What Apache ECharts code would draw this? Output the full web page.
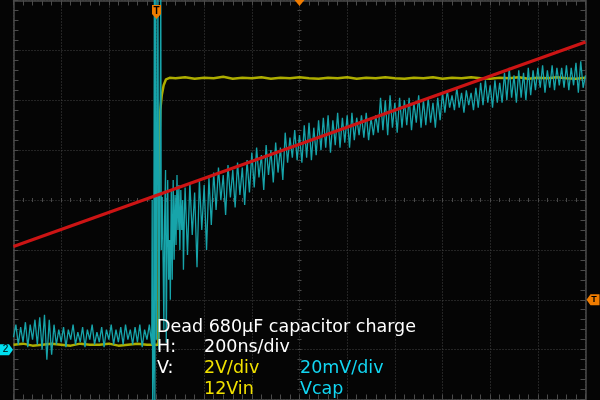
<!DOCTYPE html>
<html>
<head>
<meta charset="utf-8">
<script src="https://cdn.jsdelivr.net/npm/echarts@6/dist/echarts.min.js"></script>
<style>
html,body{margin:0;padding:0;background:#050505;}
#c{width:600px;height:400px;}
</style>
</head>
<body>
<div id="c"></div>
<script>
// ---- axis setup (time in ns, vertical in screen divisions) ----
const X_MIN = -600, X_MAX = 1800, X_STEP = 200;   // 200 ns/div, 12 div
const Y_MIN = -4, Y_MAX = 4, Y_STEP = 1;          // 8 div

// ---- CH1 (12Vin, yellow) ----
const ch1PreStart = -600, ch1PreDt = 40;
const ch1PreV = [-2.9,-2.88,-2.92,-2.9,-2.88,-2.9,-2.92,-2.88,-2.9,-2.9,-2.88,-2.92,-2.9,-2.88,-2.9];
const ch1RiseT = [8, 11, 16, 22, 30, 40, 55];
const ch1RiseV = [-2.9, 0.9, 1.8, 2.1, 2.3, 2.42, 2.45];
const ch1PlatStart = 80, ch1PlatDt = 40;
const ch1PlatV = [2.44,2.46,2.43,2.45,2.44,2.47,2.43,2.45,2.44,2.46,
                  2.43,2.45,2.44,2.46,2.44,2.43,2.45,2.44,2.46,2.43,
                  2.45,2.44,2.46,2.44,2.43,2.45,2.44,2.46,2.43,2.45,
                  2.44,2.46,2.44,2.43,2.45,2.44,2.46,2.43,2.45,2.44,
                  2.46,2.44,2.43,2.45];

// ---- CH2 (Vcap, cyan) ----
const ch2PreStart = -600, ch2Dt = 10;
const ch2PreV = [-2.75,-2.5,-2.9,-2.55,-2.85,-2.45,-2.95,-2.5,-2.8,-2.4,
                 -2.9,-2.35,-3.0,-2.3,-3.2,-2.4,-3.1,-2.5,-2.9,-2.6,
                 -2.85,-2.55,-2.95,-2.6,-2.8,-2.5,-2.9,-2.65,-2.85,-2.55,
                 -2.95,-2.6,-2.8,-2.5,-2.9,-2.65,-2.85,-2.55,-2.95,-2.6,
                 -2.8,-2.5,-2.9,-2.6,-2.85,-2.55,-2.9,-2.5,-2.8,-2.6,
                 -2.9,-2.55,-2.85,-2.5,-2.95,-2.6,-2.8,-2.5,-2.9];
const ch2BurstT = [-18,-16,-12,-9,-7,-3,0,6,10,18,20,24,28,31,34,38,41,44,47,51,55,58,62,66,70,74,78,82,86,90,94,98,102,106,110,113,117];
const ch2BurstV = [0.0,-4.3,-3.2,4.3,-4.3,4.3,-2.8,4.3,-3.0,4.3,-1.0,0.06,-1.34,-2.6,-0.4,0.6,-2.86,-1.0,0.4,-1.6,-0.8,-2.0,0.2,-1.6,0.4,-1.2,0.1,-0.9,0.5,-0.6,0.3,-1.0,0.2,-0.6,0.0,-1.4,-0.3];
const ch2PostStart = 120;
const ch2PostV = [
  0.25,-1.1,0.35,-0.7,0.15,-1.35,0.4,-0.6,0.3,-1.0,0.45,-0.5,
  0.55,-0.2,0.65,0.0,0.5,-0.3,0.7,0.05,0.6,-0.15,0.75,0.1,0.65,-0.1,0.8,0.15,
  0.95,0.25,1.05,0.45,0.9,0.2,1.1,0.5,1.0,0.35,1.15,0.55,1.05,0.4,
  1.35,0.75,1.25,0.85,1.4,0.8,1.3,
  0.75,1.5,0.85,1.55,0.8,1.45,0.9,1.6,
  1.0,1.65,1.05,1.7,0.95,1.6,1.1,1.75,1.05,1.65,1.15,1.7,1.05,
  1.75,1.2,1.65,1.3,1.7,1.25,1.75,1.2,1.65,1.3,1.7,
  1.35,2.05,1.4,2.0,1.3,2.1,1.45,1.95,1.35,2.05,
  1.45,2.0,1.5,2.05,1.4,1.95,1.55,2.1,1.45,2.0,1.5,2.05,1.55,1.95,1.45,2.05,1.6,
  2.15,1.75,2.2,1.85,2.1,1.8,2.25,1.85,2.15,1.75,2.2,1.9,2.15,1.8,2.25,1.85,
  2.35,1.9,2.4,1.95,2.3,1.85,2.4,1.95,2.35,
  1.95,2.55,2.0,2.65,2.05,2.5,1.95,2.6,2.05,2.55,2.0,2.65,2.1,2.6,
  2.2,2.65,2.25,2.7,2.15,2.6,2.25,2.7,2.2,2.65,2.3,2.65,
  2.25,2.7,2.2,2.65,2.3,2.75,2.15,2.78,2.25,2.5];

// ---- reference line (red) ----
const refT = [-600, 1800];
const refV = [-0.93, 3.17];

// ---- annotation text ----
const noteTitle = 'Dead 680µF capacitor charge';
const noteH = ['H:', '200ns/div'];
const noteV = ['V:', '2V/div', '20mV/div'];
const noteNames = ['12Vin', 'Vcap'];

// ---- build series data ----
const ch1Data = [];
ch1PreV.forEach((v, i) => ch1Data.push([ch1PreStart + i * ch1PreDt, v]));
ch1RiseT.forEach((t, i) => ch1Data.push([t, ch1RiseV[i]]));
ch1PlatV.forEach((v, i) => ch1Data.push([ch1PlatStart + i * ch1PlatDt, v]));

const ch2Data = [];
ch2PreV.forEach((v, i) => ch2Data.push([ch2PreStart + i * ch2Dt, v]));
ch2BurstT.forEach((t, i) => ch2Data.push([t, ch2BurstV[i]]));
ch2PostV.forEach((v, i) => ch2Data.push([ch2PostStart + i * ch2Dt, v]));

const refData = refT.map((t, i) => [t, refV[i]]);

// ---- styles ----
const BORDER = '#4a4a4a';
const GRIDC = '#444444';
const ORANGE = '#f07c00';
const YEL_TRACE = '#adad00';
const CYAN_TRACE = '#17a4aa';
const RED = '#cc1414';
const YEL_TEXT = '#f2e200';
const CYAN_TEXT = '#12d6f2';

function xAx(pos, offset, len, inside, line, split) {
  return {
    type: 'value', position: pos, offset: offset,
    min: X_MIN, max: X_MAX, interval: X_STEP,
    axisLine: { show: line, onZero: false, lineStyle: { color: BORDER, width: 1.5 } },
    axisTick: { show: true, inside: inside, length: len, lineStyle: { color: BORDER, width: 1 } },
    minorTick: { show: true, splitNumber: 5, length: len, lineStyle: { color: BORDER, width: 1 } },
    axisLabel: { show: false },
    splitLine: { show: split, lineStyle: { color: GRIDC, type: [1, 2], width: 1 } },
    minorSplitLine: { show: false }
  };
}
function yAx(pos, offset, len, inside, line, split) {
  return {
    type: 'value', position: pos, offset: offset,
    min: Y_MIN, max: Y_MAX, interval: Y_STEP,
    axisLine: { show: line, onZero: false, lineStyle: { color: BORDER, width: 1.5 } },
    axisTick: { show: true, inside: inside, length: len, lineStyle: { color: BORDER, width: 1 } },
    minorTick: { show: true, splitNumber: 5, length: len, lineStyle: { color: BORDER, width: 1 } },
    axisLabel: { show: false },
    splitLine: { show: split, lineStyle: { color: GRIDC, type: [1, 2], width: 1 } },
    minorSplitLine: { show: false }
  };
}

const chart = echarts.init(document.getElementById('c'), null, { renderer: 'canvas' });
const font = '17.5px "DejaVu Sans", Verdana, sans-serif';
function txt(x, y, s, color) {
  return { type: 'text', x: x, y: y, z: 100, silent: true,
    style: { text: s, fill: color, font: font, verticalAlign: 'middle', align: 'left' } };
}

chart.setOption({
  animation: false,
  backgroundColor: '#050505',
  grid: { left: 13.5, right: 14.5, top: 0.5, bottom: 0.5, show: false },
  xAxis: [
    xAx('bottom', 0, 5, true, true, true),
    xAx('top', 0, 5, true, true, false),
    xAx('bottom', -199.5, 2, true, false, false),
    xAx('top', -199.5, 2, true, false, false)
  ],
  yAxis: [
    yAx('left', 0, 5, true, true, true),
    yAx('right', 0, 5, true, true, false),
    yAx('left', -286, 2, true, false, false),
    yAx('right', -286, 2, true, false, false)
  ],
  series: [
    {
      name: '12Vin', type: 'line', data: ch1Data, xAxisIndex: 0, yAxisIndex: 0,
      showSymbol: false, symbol: 'none', clip: true, z: 2,
      lineStyle: { color: YEL_TRACE, width: 2.5 },
      markPoint: {
        silent: true, z: 50, animation: false,
        data: [
          { coord: [0, Y_MAX], symbol: 'path://M0,0 L10,0 L10,9 L5,14 L0,9 Z', symbolSize: [9, 14],
            symbolOffset: [0, 11.5], itemStyle: { color: ORANGE },
            label: { show: true, formatter: 'T', color: '#000', fontSize: 10, fontWeight: 'bold', offset: [0, -1] } },
          { coord: [X_MAX, -2], symbol: 'path://M0,5 L4,0 L13,0 L13,10 L4,10 Z', symbolSize: [13, 11],
            symbolOffset: [7.5, 0], itemStyle: { color: ORANGE },
            label: { show: true, formatter: 'T', color: '#000', fontSize: 9, fontWeight: 'bold', offset: [1, 0] } }
        ]
      }
    },
    {
      name: 'Vcap', type: 'line', data: ch2Data, xAxisIndex: 0, yAxisIndex: 0,
      showSymbol: false, symbol: 'none', clip: true, z: 3,
      lineStyle: { color: CYAN_TRACE, width: 1.3 },
      markPoint: {
        silent: true, z: 50, animation: false,
        data: [
          { coord: [X_MIN, -3], symbol: 'path://M0,0 L9,0 L13,5 L9,10 L0,10 Z', symbolSize: [13, 11],
            symbolOffset: [-7, 0], itemStyle: { color: '#00e0f0' },
            label: { show: true, formatter: '2', color: '#000', fontSize: 10, offset: [-1, 0] } }
        ]
      }
    },
    {
      name: 'ref', type: 'line', data: refData, xAxisIndex: 0, yAxisIndex: 0,
      showSymbol: false, symbol: 'none', clip: true, z: 4,
      lineStyle: { color: RED, width: 3.2 },
      markPoint: {
        silent: true, z: 50, animation: false,
        data: [
          { coord: [600, Y_MAX], symbol: 'path://M0,0 L10,0 L5,6 Z', symbolSize: [10, 6],
            symbolOffset: [0, 2.5], itemStyle: { color: ORANGE }, label: { show: false } }
        ]
      }
    }
  ],
  graphic: [
    txt(157, 327, noteTitle, '#ffffff'),
    txt(157, 347.5, noteH[0], '#ffffff'),
    txt(204, 347.5, noteH[1], '#ffffff'),
    txt(157, 368.5, noteV[0], '#ffffff'),
    txt(204, 368.5, noteV[1], YEL_TEXT),
    txt(300, 368.5, noteV[2], CYAN_TEXT),
    txt(204, 389, noteNames[0], YEL_TEXT),
    txt(300, 389, noteNames[1], CYAN_TEXT)
  ]
});
</script>
</body>
</html>
